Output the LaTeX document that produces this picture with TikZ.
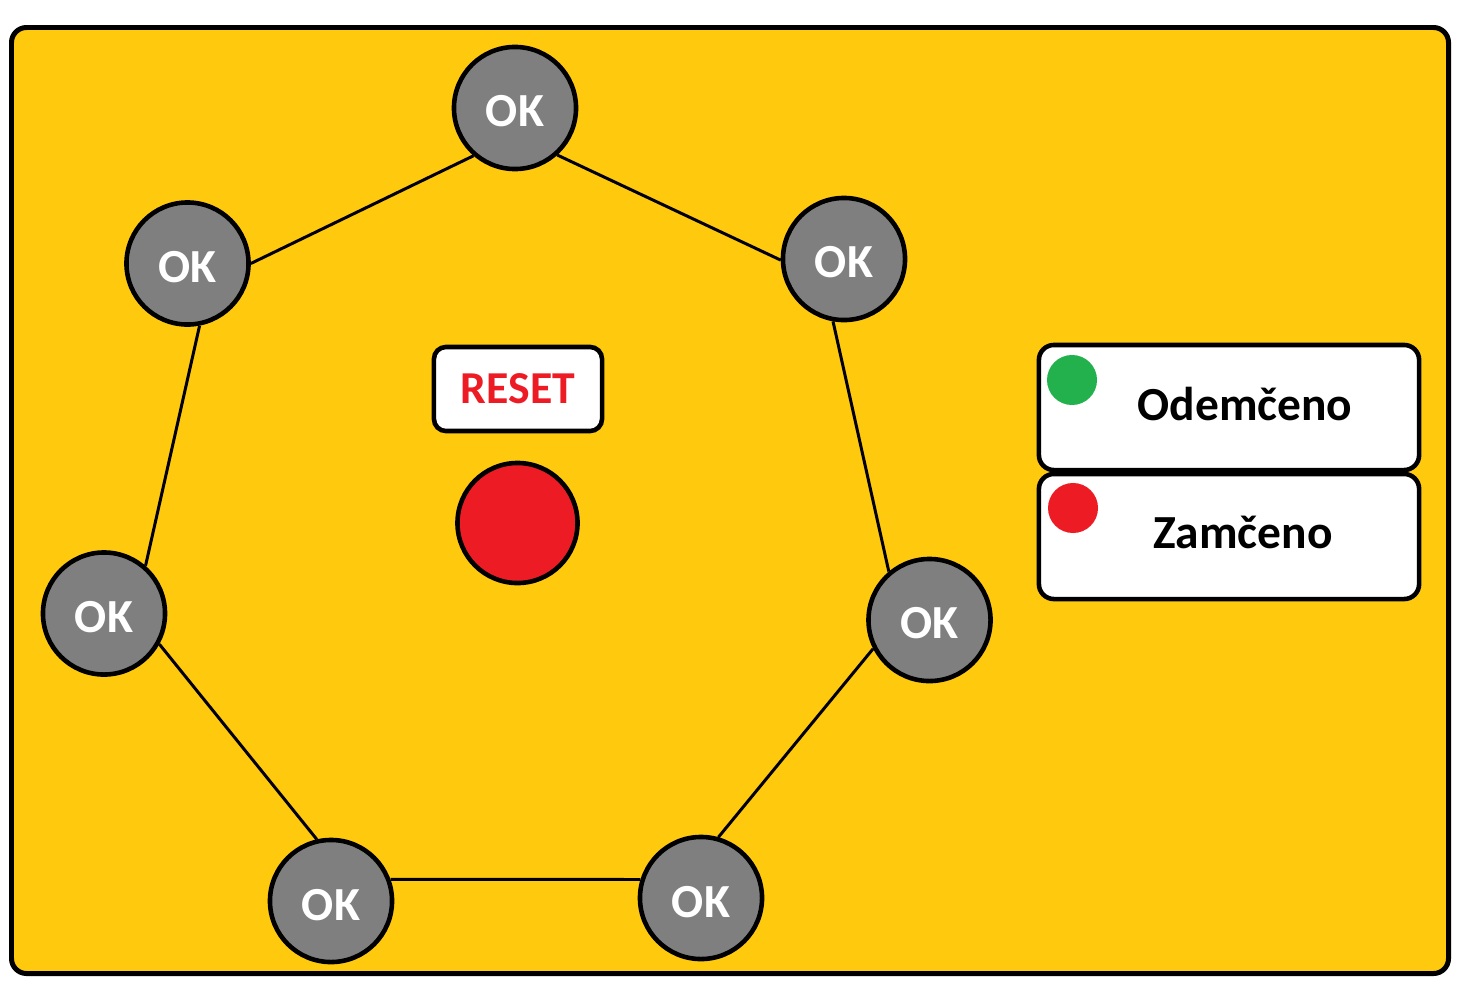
\documentclass[tikz,border=0pt]{standalone}
\usepackage{fontspec}
\setmainfont{Carlito}

\definecolor{panel}{HTML}{FFC90E}
\definecolor{btngray}{HTML}{7F7F7F}
\definecolor{lampred}{HTML}{ED1C24}
\definecolor{lampgreen}{HTML}{22B14C}

\tikzset{
  okbtn/.style={circle, draw=black, line width=1.3pt, fill=btngray, minimum size=1.22cm,
    inner sep=0pt, text=white, text height=10.8pt, text depth=0pt,
    font=\fontsize{13.5}{16}\selectfont\bfseries},
  lamp/.style={circle, draw=black, line width=1.3pt, fill=lampred, minimum size=1.2cm, inner sep=0pt},
  dot/.style={circle, minimum size=0.5cm, inner sep=0pt},
  link/.style={line width=0.85pt},
  legendbox/.style={draw=black, line width=1.3pt, fill=white, rounded corners=0.15cm,
    minimum width=3.8cm, minimum height=1.25cm},
  legendtext/.style={anchor=base, font=\fontsize{13.5}{16}\selectfont\bfseries}
}

\begin{document}
\begin{tikzpicture}[x=0.01cm, y=-0.01cm]

\path[use as bounding box, fill=white] (0,0) rectangle (1458,1000);

%Panel
\draw[fill=panel, line width=1.42pt, rounded corners=0.15cm] (11.5,27.5) rectangle (1448.5,973.5);

%OK Buttons
\node[okbtn] (ok1) at (515,108) {OK};
\node[okbtn] (ok2) at (844,259) {OK};
\node[okbtn] (ok3) at (929.5,620) {OK};
\node[okbtn] (ok4) at (701,898) {OK};
\node[okbtn] (ok5) at (331,901) {OK};
\node[okbtn] (ok6) at (104,613.5) {OK};
\node[okbtn] (ok7) at (187.5,263.5) {OK};

%Links
\draw[link] (ok1.312) -- (ok2.181);
\draw[link] (ok2.260) -- (ok3.130);
\draw[link] (ok3.207) -- (ok4.74);
\draw[link] (ok4.163) -- (ok5.20);
\draw[link] (ok5.103) -- (ok6.331);
\draw[link] (ok6.49) -- (ok7.281);
\draw[link] (ok7.0) -- (ok1.229);

%Reset & Lamp
\node[draw=black, line width=1.3pt, fill=white, rounded corners=0.12cm, minimum width=1.68cm,
  minimum height=0.84cm, inner sep=0pt, text=lampred, font=\fontsize{13}{16}\selectfont\bfseries]
  (reset) at (518,389) {RESET};
\node[lamp] (lock) at (517.5,523) {};

%Legend
\node[legendbox] (open) at (1229,407.5) {};
\node[legendbox] (shut) at (1229,536.5) {};
\node[dot, fill=lampgreen] (opendot) at (1072,380) {};
\node[dot, fill=lampred] (shutdot) at (1073,508) {};
\node[legendtext] (opentext) at (1245,420) {Odemčeno};
\node[legendtext] (shuttext) at (1243,548) {Zamčeno};

\end{tikzpicture}
\end{document}
